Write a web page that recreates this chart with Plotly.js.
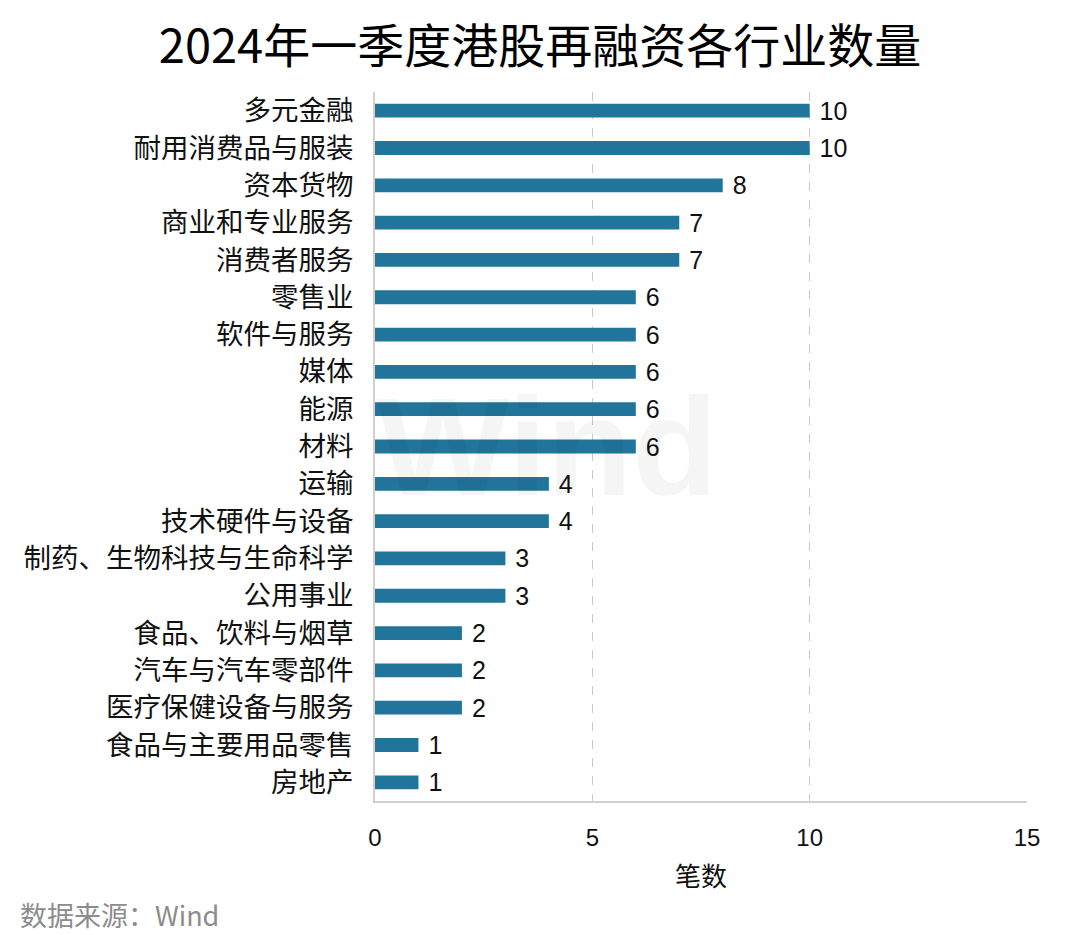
<!DOCTYPE html>
<html>
<head>
<meta charset="utf-8">
<script src="https://cdn.plot.ly/plotly-3.0.1.min.js"></script>
<style>
  body { margin: 0; background: #fff; }
  #chart { width: 1080px; height: 935px; }
</style>
</head>
<body>
<div id="chart"></div>
<script>
// industries, top to bottom as in the picture
var industries = [
  "多元金融", "耐用消费品与服装", "资本货物", "商业和专业服务", "消费者服务",
  "零售业", "软件与服务", "媒体", "能源", "材料",
  "运输", "技术硬件与设备", "制药、生物科技与生命科学", "公用事业",
  "食品、饮料与烟草", "汽车与汽车零部件", "医疗保健设备与服务",
  "食品与主要用品零售", "房地产"
];
var counts = [10, 10, 8, 7, 7, 6, 6, 6, 6, 6, 4, 4, 3, 3, 2, 2, 2, 1, 1];
var xTicks = [0, 5, 10, 15];

var font = "'Noto Sans CJK SC', 'Liberation Sans', Arial, sans-serif";
var latin = "'Liberation Sans', Arial, sans-serif";

var bars = {
  type: "bar",
  orientation: "h",
  y: industries,
  x: counts,
  width: 0.37,
  marker: { color: "#21759b" },
  text: counts.map(function (v) { return " " + v; }),
  textposition: "outside",
  constraintext: "none",
  textfont: { size: 25, color: "#111", family: latin },
  cliponaxis: false,
  hoverinfo: "x+y"
};

var layout = {
  width: 1080,
  height: 935,
  margin: { l: 375, r: 53, t: 92, b: 134 },
  paper_bgcolor: "#fff",
  plot_bgcolor: "#fff",
  showlegend: false,
  font: { family: font, color: "#111" },
  title: {
    text: "2024年一季度港股再融资各行业数量",
    font: { size: 47, color: "#000", family: font },
    x: 0.5, xanchor: "center",
    y: 0.95, yanchor: "middle"
  },
  xaxis: {
    range: [0, 15],
    tickvals: xTicks,
    ticktext: xTicks.map(String),
    tickfont: { size: 24, family: latin, color: "#111" },
    showgrid: true,
    gridcolor: "#c8c8c8",
    griddash: "dash",
    gridwidth: 1,
    zeroline: false,
    showline: true,
    linecolor: "#d0d0d0",
    linewidth: 2,
    ticks: "",
    ticklabelstandoff: 14,
    title: { text: "笔数", font: { size: 26, family: font, color: "#111" }, standoff: 18 }
  },
  yaxis: {
    autorange: false,
    range: [18.5, -0.5],
    type: "category",
    showgrid: false,
    zeroline: false,
    showline: true,
    linecolor: "#d0d0d0",
    linewidth: 2,
    ticks: "",
    ticklabelstandoff: 14,
    tickfont: { size: 27.5, family: font, color: "#111" }
  },
  annotations: [
    {
      text: "数据来源：Wind",
      xref: "paper", yref: "paper",
      x: -357 / 652, y: -113 / 709,
      xanchor: "left", yanchor: "middle",
      showarrow: false,
      font: { size: 27, color: "#8c8c8c", family: font }
    },
    {
      text: "<b>Wind</b>",
      xref: "paper", yref: "paper",
      x: 0.265, y: 0.5,
      xanchor: "center", yanchor: "middle",
      showarrow: false,
      font: { size: 140, color: "rgba(0,0,0,0.04)", family: latin }
    }
  ]
};

Plotly.newPlot("chart", [bars], layout, { displayModeBar: false, staticPlot: true });
</script>
</body>
</html>
